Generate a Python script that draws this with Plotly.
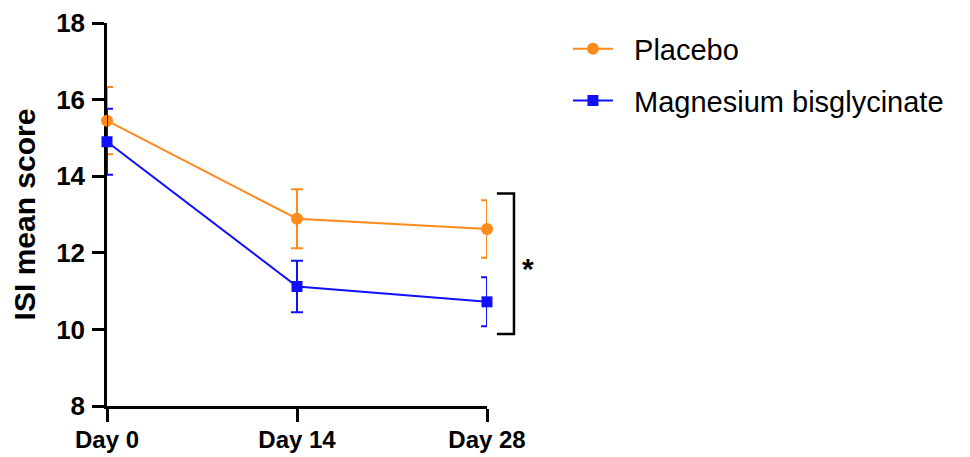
import plotly.graph_objects as go

days = [0, 14, 28]
day_labels = ["Day 0", "Day 14", "Day 28"]
placebo_mean = [15.45, 12.89, 12.62]
placebo_err = [0.88, 0.77, 0.75]
mg_mean = [14.90, 11.12, 10.72]
mg_err = [0.86, 0.67, 0.64]
y_ticks = [8, 10, 12, 14, 16, 18]
series_names = ["Placebo", "Magnesium bisglycinate"]

ORANGE = "#FF8A1C"
BLUE = "#1010FF"
FONT = "Liberation Sans, Arial"
PAD = "\u00a0\u00a0"

fig = go.Figure()
fig.add_trace(go.Scatter(
    x=days, y=placebo_mean, name=PAD + series_names[0], mode="lines+markers",
    line=dict(color=ORANGE, width=2),
    marker=dict(symbol="circle", size=12, color=ORANGE),
    error_y=dict(type="data", array=placebo_err, color=ORANGE, thickness=2, width=6),
    cliponaxis=False, legendgroup="a",
))
fig.add_trace(go.Scatter(
    x=days, y=mg_mean, name=PAD + series_names[1], mode="lines+markers",
    line=dict(color=BLUE, width=2),
    marker=dict(symbol="square", size=11, color=BLUE),
    error_y=dict(type="data", array=mg_err, color=BLUE, thickness=2, width=6),
    cliponaxis=False, legendgroup="b",
))

# significance bracket
fig.add_shape(type="path", xref="paper", yref="y",
              path="M 1.026 13.55 L 1.071 13.55 L 1.071 9.88 L 1.026 9.88",
              line=dict(color="black", width=2.5))
fig.add_annotation(xref="paper", yref="y", x=1.128, y=11.6, text="<b>*</b>",
                   showarrow=False, font=dict(size=30, color="black", family=FONT))

fig.update_layout(
    width=962, height=449,
    margin=dict(l=99, r=483, t=15, b=51),
    plot_bgcolor="white", paper_bgcolor="white",
    font=dict(family=FONT, color="black"),
    showlegend=True,
    legend=dict(x=1.213, xanchor="left", y=0.999, yanchor="top",
                font=dict(size=29, family=FONT),
                traceorder="grouped", tracegroupgap=11, itemwidth=40,
                bgcolor="rgba(0,0,0,0)"),
    xaxis=dict(range=[0, 28], tickvals=days, ticktext=day_labels,
               showline=True, linecolor="black", linewidth=2.5,
               ticks="outside", ticklen=13, tickwidth=2.5, tickcolor="black",
               showgrid=False, zeroline=False, layer="below traces",
               automargin=False,
               tickfont=dict(size=24, family=FONT, weight="bold"),
               ticklabelstandoff=-3),
    yaxis=dict(range=[8, 18], tickvals=y_ticks,
               showline=True, linecolor="black", linewidth=2.5,
               ticks="outside", ticklen=12, tickwidth=2.5, tickcolor="black",
               showgrid=False, zeroline=False, layer="below traces",
               automargin=False,
               tickfont=dict(size=26, family=FONT, weight="bold"),
               ticklabelstandoff=2,
               title=dict(text="ISI mean score", standoff=15,
                          font=dict(size=30, family=FONT, weight="bold"))),
)

fig.write_html("out.html")
